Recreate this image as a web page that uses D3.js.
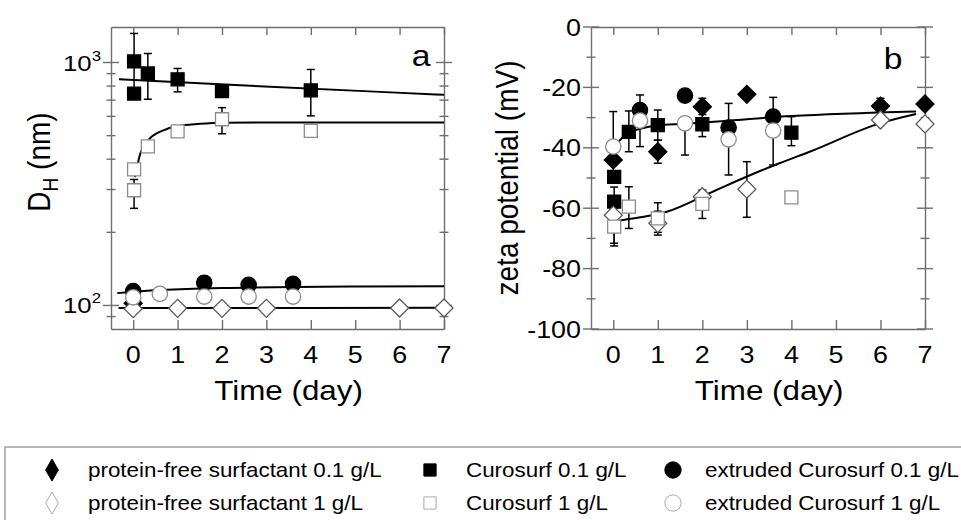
<!DOCTYPE html>
<html>
<head>
<meta charset="utf-8">
<script src="https://cdn.jsdelivr.net/npm/d3@7"></script>
<style>
  body { margin: 0; background: #fff; }
  svg { display: block; font-family: "Liberation Sans", Arial, sans-serif; }
</style>
</head>
<body>
<svg id="chart" width="961" height="520"></svg>
<script>
////////////////////////////////////////////////////////////////////
////////////////////////////  Data  ////////////////////////////////
const dayTicks = [0, 1, 2, 3, 4, 5, 6, 7];
const zetaTicks = [0, -20, -40, -60, -80, -100];
const zetaMinor = [-10, -30, -50, -70, -90];
const dhTicks = [100, 1000];
const dhMinor = [90, 200, 300, 400, 500, 600, 700, 800, 900];

// panel a : hydrodynamic diameter (nm)
const dayA_pf01 = [0];
const dhA_pf01 = [102];
const dayA_cs01 = [0.02, 0.02, 0.33, 1, 2, 4];
const dhA_cs01 = [1010, 745, 901, 853, 762, 768];
const errA_cs01 = [[760, 1317], null, [706, 1089], [757, 945], null, [603, 936]];
const dayA_ext01 = [0, 1.6, 2.6, 3.6];
const dhA_ext01 = [114.6, 124, 121.6, 122.7];
const dayA_pf1 = [0, 1, 2, 3, 6, 7];
const dhA_pf1 = [97, 97.3, 97.3, 97.3, 97.6, 97.6];
const dayA_cs1 = [0.02, 0.02, 0.33, 1, 2, 4];
const dhA_cs1 = [298, 363, 452, 521, 584, 523];
const errA_cs1 = [[251, 330], null, null, null, [509, 652], null];
const dayA_ext1 = [0, 0.6, 1.6, 2.6, 3.6];
const dhA_ext1 = [108, 111.6, 108.8, 108.8, 108.8];

// panel a : fitted curves
const fitDayA_cs01 = [-0.32, 2.41, 5.56, 7];
const fitDhA_cs01 = [853, 806, 757, 736];
const fitDayA_cs1 = [0.04, 0.16, 0.34, 0.68, 0.98, 1.5, 2, 3, 7];
const fitDhA_cs1 = [338, 422, 479, 526, 547, 559, 565, 566, 566];
const fitDayA_ext = [-0.36, 0.39, 0.76, 2, 5.11, 7];
const fitDhA_ext = [112.4, 115.3, 116.1, 118, 119.7, 120];
const fitDayA_pf = [-0.33, 3, 7];
const fitDhA_pf = [97.7, 97.7, 97.8];

// panel b : zeta potential (mV)
const dayB_pf01 = [0, 1, 2, 3, 6, 7];
const zB_pf01 = [-44, -41.3, -26.4, -22.3, -26.2, -25.5];
const errB_pf01 = [null, [-45.1, -37.5], [-29, -23.6], null, [-28, -23.6], null];
const dayB_cs01 = [0.02, 0.02, 0.35, 1, 2, 4];
const zB_cs01 = [-57.8, -49.6, -34.7, -32.5, -32.2, -35];
const errB_cs01 = [[-71.6, -53], null, [-41.3, -27.8], [-37.5, -27.5], [-36.3, -28], [-39.3, -29.7]];
const dayB_ext01 = [0.6, 1.61, 2.59, 3.59];
const zB_ext01 = [-27.5, -22.7, -33.3, -29.7];
const errB_ext01 = [[-30, -22.5], null, [-35, -25.3], [-31, -23.3]];
const dayB_pf1 = [0, 1, 2, 3, 6, 7];
const zB_pf1 = [-62.3, -65, -56.2, -53.7, -30.8, -32.1];
const errB_pf1 = [null, [-68.9, -61], null, [-63, -44.6], null, null];
const dayB_cs1 = [0.02, 0.35, 1, 2, 4];
const zB_cs1 = [-66.1, -59.5, -63.4, -58.6, -56.4];
const errB_cs1 = [[-72.5, -60], [-66.7, -52.9], [-68, -58.2], [-63.4, -54], null];
const dayB_ext1 = [0, 0.6, 1.61, 2.59, 3.59];
const zB_ext1 = [-39.6, -31, -31.9, -37.2, -34.3];
const errB_ext1 = [[-50, -28], [-39.6, -30], [-42.4, -31], [-49, -36], [-45.7, -33]];

// panel b : fitted curves
const fitDayB_up = [0, 0.35, 1, 1.57, 4, 6.8];
const fitZB_up = [-40, -35, -32.6, -32.1, -29.5, -28];
const fitDayB_low = [0, 0.22, 1.2, 2.24, 2.99, 3.73, 4.41, 5.98, 6.8];
const fitZB_low = [-64.5, -63.9, -61.2, -54.5, -49.6, -45.1, -41.3, -31.9, -28.8];

const legendKeys = ["pf01", "cs01", "ext01", "pf1", "cs1", "ext1"];
const legendLabels = [
  "protein-free surfactant 0.1 g/L", "Curosurf 0.1 g/L", "extruded Curosurf 0.1 g/L",
  "protein-free surfactant 1 g/L", "Curosurf 1 g/L", "extruded Curosurf 1 g/L",
];

////////////////////////////////////////////////////////////////////
////////////////////////////  Init  ////////////////////////////////
const SX = 1.12; // text in the source is a bit wider than Arial
const frameColor = "#6e6e6e";

const svg = d3.select("#chart");

const xA = d3.scaleLinear().domain([-0.5, 7]).range([111, 444]);
const yA = d3.scaleLog().domain([80, 1400]).range([329, 27]);
const xB = d3.scaleLinear().domain([-0.5, 7]).range([591, 925]);
const yB = d3.scaleLinear().domain([-100, 0]).range([329, 27]);

const styles = {
  pf01: { shape: "diamond", fill: "#000", stroke: "#000" },
  cs01: { shape: "square", fill: "#000", stroke: "#000" },
  ext01: { shape: "circle", fill: "#000", stroke: "#000" },
  pf1: { shape: "diamond", fill: "#fff", stroke: "#5a5a5a" },
  cs1: { shape: "square", fill: "#fff", stroke: "#8c8c8c" },
  ext1: { shape: "circle", fill: "#fff", stroke: "#8c8c8c" },
};

const symbolPath = (shape) => {
  if (shape === "diamond") return d3.symbol(d3.symbolSquare, 162)();
  if (shape === "square") return d3.symbol(d3.symbolSquare, 169)();
  return d3.symbol(d3.symbolCircle, 185)();
};

const zip = (days, vals, err) =>
  days.map((d, i) => ({ day: d, v: vals[i], err: err ? err[i] : null }));

const seriesA = [
  { key: "pf01", pts: zip(dayA_pf01, dhA_pf01) },
  { key: "cs01", pts: zip(dayA_cs01, dhA_cs01, errA_cs01) },
  { key: "ext01", pts: zip(dayA_ext01, dhA_ext01) },
  { key: "pf1", pts: zip(dayA_pf1, dhA_pf1) },
  { key: "cs1", pts: zip(dayA_cs1, dhA_cs1, errA_cs1) },
  { key: "ext1", pts: zip(dayA_ext1, dhA_ext1) },
];
const seriesB = [
  { key: "pf01", pts: zip(dayB_pf01, zB_pf01, errB_pf01) },
  { key: "cs01", pts: zip(dayB_cs01, zB_cs01, errB_cs01) },
  { key: "ext01", pts: zip(dayB_ext01, zB_ext01, errB_ext01) },
  { key: "pf1", pts: zip(dayB_pf1, zB_pf1, errB_pf1) },
  { key: "cs1", pts: zip(dayB_cs1, zB_cs1, errB_cs1) },
  { key: "ext1", pts: zip(dayB_ext1, zB_ext1, errB_ext1) },
];
const fitsA = [zip(fitDayA_cs01, fitDhA_cs01), zip(fitDayA_cs1, fitDhA_cs1),
  zip(fitDayA_ext, fitDhA_ext), zip(fitDayA_pf, fitDhA_pf)];
const fitsB = [zip(fitDayB_up, fitZB_up), zip(fitDayB_low, fitZB_low)];

////////////////////////////////////////////////////////////////////
////////////////////////////  Frame  ///////////////////////////////
function drawFrame(x, y, major, minor) {
  const g = svg.append("g");
  const [x0, x1] = x.range();
  const [yBot, yTop] = y.range();

  g.append("g").attr("transform", `translate(0,${yBot})`)
    .call(d3.axisBottom(x).tickValues(dayTicks).tickSizeInner(-9).tickSizeOuter(0).tickFormat(""));
  g.append("g").attr("transform", `translate(0,${yTop})`)
    .call(d3.axisTop(x).tickValues(dayTicks).tickSizeInner(-8).tickSizeOuter(0).tickFormat(""));
  g.append("g").attr("transform", `translate(${x0},0)`)
    .call(d3.axisLeft(y).tickValues([]).tickSizeOuter(0));
  g.append("g").attr("transform", `translate(${x1},0)`)
    .call(d3.axisRight(y).tickValues([]).tickSizeOuter(0));

  // crossing ticks on both vertical sides
  [x0, x1].forEach((xp) => {
    g.selectAll(null).data(major).join("line")
      .attr("x1", xp - 8).attr("x2", xp + 8)
      .attr("y1", (d) => y(d)).attr("y2", (d) => y(d));
    g.selectAll(null).data(minor).join("line")
      .attr("x1", xp - 4.5).attr("x2", xp + 4.5)
      .attr("y1", (d) => y(d)).attr("y2", (d) => y(d));
  });

  g.selectAll("path, line").attr("stroke", frameColor).attr("stroke-width", 1.4);

  // x tick labels
  g.selectAll(null).data(dayTicks).join("text")
    .attr("transform", (d) => `translate(${x(d)},363) scale(${SX},1)`)
    .attr("text-anchor", "middle").attr("font-size", 24)
    .text((d) => d);

  // x title
  g.append("text")
    .attr("transform", `translate(${(x(0) + x(7)) / 2},400) scale(${SX},1)`)
    .attr("text-anchor", "middle").attr("font-size", 28)
    .text("Time (day)");
  return g;
}

const frameA = drawFrame(xA, yA, dhTicks, dhMinor);
const frameB = drawFrame(xB, yB, zetaTicks, zetaMinor);

// log labels 10^2, 10^3
const dhLab = frameA.selectAll(null).data(dhTicks).join("text")
  .attr("transform", (d) => `translate(101,${yA(d) + 8}) scale(${SX},1)`)
  .attr("text-anchor", "end").attr("font-size", 23);
dhLab.append("tspan").text("10");
dhLab.append("tspan").attr("font-size", 15).attr("dy", -10)
  .text((d) => Math.round(Math.log10(d)));

frameB.selectAll(null).data(zetaTicks).join("text")
  .attr("transform", (d) => `translate(581,${yB(d) + 8.5}) scale(${SX},1)`)
  .attr("text-anchor", "end").attr("font-size", 24)
  .text((d) => d);

// y titles
const tA = svg.append("text")
  .attr("transform", `translate(50,162) scale(${SX},1) rotate(-90)`)
  .attr("text-anchor", "middle").attr("font-size", 28);
tA.append("tspan").text("D");
tA.append("tspan").attr("font-size", 19).attr("dy", 7).text("H");
tA.append("tspan").attr("dy", -7).text(" (nm)");

svg.append("text")
  .attr("transform", `translate(518,178) scale(${SX},1) rotate(-90)`)
  .attr("text-anchor", "middle").attr("font-size", 28)
  .text("zeta potential (mV)");

// panel letters
svg.append("text").attr("transform", `translate(421,66) scale(${SX},1)`)
  .attr("text-anchor", "middle").attr("font-size", 30).text("a");
svg.append("text").attr("transform", `translate(893,69) scale(${SX},1)`)
  .attr("text-anchor", "middle").attr("font-size", 30).text("b");

////////////////////////////////////////////////////////////////////
////////////////////////////  Marks  ///////////////////////////////
function drawPanel(x, y, series, fits) {
  const g = svg.append("g");
  const line = d3.line().curve(d3.curveMonotoneX)
    .x((d) => x(d.day)).y((d) => y(d.v));

  // fitted curves
  g.selectAll(null).data(fits).join("path")
    .attr("d", line).attr("fill", "none")
    .attr("stroke", "#000").attr("stroke-width", 2);

  // error bars
  const errs = series.flatMap((s) => s.pts.filter((p) => p.err));
  const eb = g.selectAll(null).data(errs).join("g").attr("stroke", "#000").attr("stroke-width", 1.5);
  eb.append("line")
    .attr("x1", (d) => x(d.day)).attr("x2", (d) => x(d.day))
    .attr("y1", (d) => y(d.err[0])).attr("y2", (d) => y(d.err[1]));
  [0, 1].forEach((k) => {
    eb.append("line")
      .attr("x1", (d) => x(d.day) - 4).attr("x2", (d) => x(d.day) + 4)
      .attr("y1", (d) => y(d.err[k])).attr("y2", (d) => y(d.err[k]));
  });

  // markers
  series.forEach((s) => {
    const st = styles[s.key];
    g.selectAll(null).data(s.pts).join("path")
      .attr("d", symbolPath(st.shape))
      .attr("transform", (d) =>
        `translate(${x(d.day)},${y(d.v)})` + (st.shape === "diamond" ? " rotate(45)" : ""))
      .attr("fill", st.fill).attr("stroke", st.stroke).attr("stroke-width", 1.3);
  });
}

drawPanel(xA, yA, seriesA, fitsA);
drawPanel(xB, yB, seriesB, fitsB);

////////////////////////////////////////////////////////////////////
////////////////////////////  Legend  //////////////////////////////
const legend = svg.append("g");
legend.append("rect")
  .attr("x", 5).attr("y", 447).attr("width", 1000).attr("height", 100)
  .attr("fill", "none").attr("stroke", "#888").attr("stroke-width", 1.2);

const symX = [52, 430, 673];
const txtX = [88, 466, 705];
const rowY = [470, 503];
const legendSym = { diamond: d3.symbol(d3.symbolDiamond, 140)(),
  square: d3.symbol(d3.symbolSquare, 150)(), circle: d3.symbol(d3.symbolCircle, 210)() };

legendKeys.forEach((k, i) => {
  const col = i % 3, row = Math.floor(i / 3);
  const st = styles[k];
  legend.append("path").attr("d", legendSym[st.shape])
    .attr("transform", `translate(${symX[col]},${rowY[row]})`)
    .attr("fill", st.fill)
    .attr("stroke", st.fill === "#000" ? "#000" : "#aaa").attr("stroke-width", 1);
  legend.append("text")
    .attr("transform", `translate(${txtX[col]},${rowY[row] + 7}) scale(${SX},1)`)
    .attr("font-size", 20).text(legendLabels[i]);
});
</script>
</body>
</html>
